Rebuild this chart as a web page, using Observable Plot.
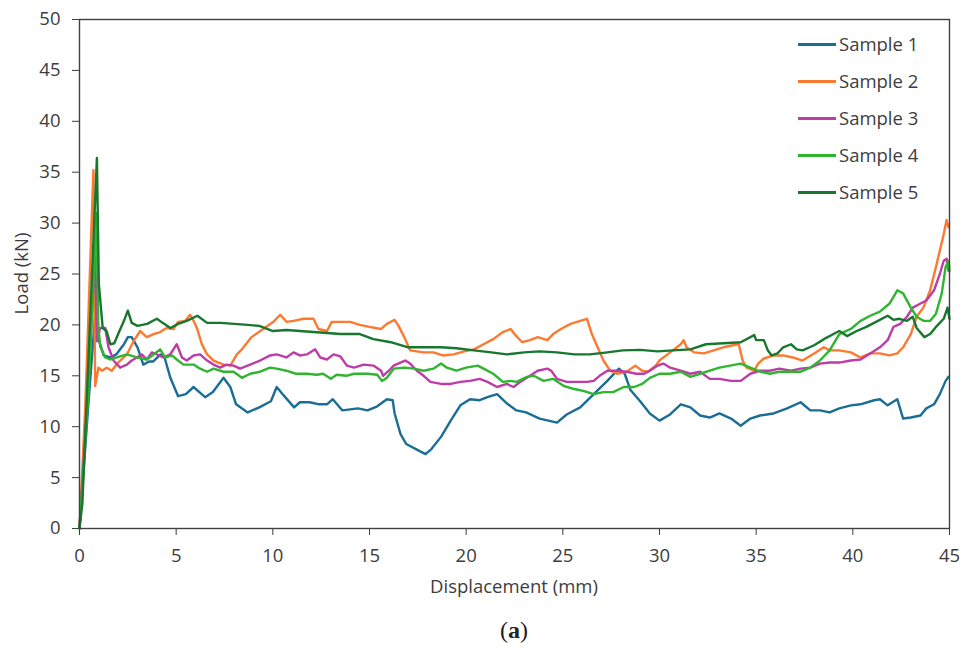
<!DOCTYPE html>
<html>
<head>
<meta charset="utf-8">
<script src="https://cdn.jsdelivr.net/npm/d3@7"></script>
<script src="https://cdn.jsdelivr.net/npm/@observablehq/plot@0.6"></script>
<style>
  html, body { margin: 0; padding: 0; background: #fff; }
  #wrap { position: relative; width: 969px; height: 652px; font-family: "Open Sans", sans-serif; color: #3d3d3d; }
  #legend { position: absolute; left: 798px; top: 31px; }
  .item { position: relative; height: 37px; }
  .sw { position: absolute; left: 0; top: 12px; width: 38px; height: 2.6px; }
  .lab { position: absolute; left: 41px; top: 0; font-size: 18.5px; line-height: 26px; color: #3d3d3d; white-space: nowrap; }
  #caption { position: absolute; left: 514px; top: 615px; transform: translateX(-50%); font-family: "Liberation Serif", serif; font-size: 24px; line-height: 30px; color: #222; }
</style>
</head>
<body>
<div id="wrap">
  <div id="chart"></div>
  <div id="legend"></div>
  <div id="caption">(<b>a</b>)</div>
</div>
<script>
const samples = ["Sample 1", "Sample 2", "Sample 3", "Sample 4", "Sample 5"];
const colors = ["#1b6e93", "#fb7a30", "#bd3ca8", "#2fb52f", "#18772f"];
const xTicks = [0, 5, 10, 15, 20, 25, 30, 35, 40, 45];
const yTicks = [0, 5, 10, 15, 20, 25, 30, 35, 40, 45, 50];

const sample1 = [[0,0],[0.45,12],[0.85,22],[1.0,18.5],[1.25,17.0],[1.6,16.8],[1.9,17.1],[2.3,18.1],[2.5,18.8],[2.7,18.8],[3.0,17.8],[3.3,16.1],[3.6,16.4],[3.8,16.4],[4.2,17.1],[4.4,16.8],[4.7,14.8],[5.1,13.0],[5.5,13.2],[5.9,13.9],[6.2,13.4],[6.5,12.9],[6.9,13.4],[7.45,14.8],[7.8,13.9],[8.1,12.2],[8.7,11.4],[9.3,11.9],[9.9,12.5],[10.2,13.9],[10.55,13.1],[11.1,11.9],[11.4,12.4],[11.9,12.4],[12.4,12.2],[12.8,12.2],[13.1,12.7],[13.6,11.6],[14.0,11.7],[14.4,11.8],[14.9,11.6],[15.4,12.0],[15.9,12.7],[16.2,12.6],[16.3,11.3],[16.6,9.3],[16.9,8.3],[17.5,7.7],[17.9,7.3],[18.2,7.8],[18.7,9.0],[19.2,10.6],[19.7,12.1],[20.2,12.7],[20.7,12.6],[21.1,12.9],[21.6,13.2],[22.1,12.3],[22.6,11.6],[23.1,11.4],[23.8,10.8],[24.7,10.4],[25.2,11.2],[25.9,11.9],[26.6,13.2],[27.3,14.5],[27.9,15.7],[28.2,15.2],[28.5,13.6],[29.0,12.5],[29.5,11.3],[30.0,10.6],[30.55,11.2],[31.1,12.2],[31.6,11.9],[32.1,11.1],[32.6,10.9],[33.1,11.3],[33.7,10.8],[34.2,10.1],[34.7,10.8],[35.2,11.1],[35.9,11.3],[36.6,11.8],[37.3,12.4],[37.8,11.6],[38.3,11.6],[38.8,11.4],[39.3,11.8],[39.9,12.1],[40.4,12.2],[41.1,12.6],[41.4,12.7],[41.8,12.1],[42.3,12.7],[42.6,10.8],[43.0,10.9],[43.5,11.1],[43.8,11.8],[44.2,12.2],[44.5,13.2],[44.8,14.5],[44.95,14.9]];

const sample2 = [[0,0],[0.3,12],[0.72,35.2],[0.81,14.0],[0.98,15.8],[1.16,15.5],[1.41,15.8],[1.67,15.5],[2.0,16.3],[2.45,17.1],[2.8,18.4],[3.14,19.4],[3.48,18.8],[3.83,19.1],[4.17,19.3],[4.5,19.7],[4.86,19.6],[5.1,20.3],[5.47,20.4],[5.72,21.0],[5.9,20.4],[6.07,19.7],[6.33,18.1],[6.6,17.1],[6.93,16.5],[7.45,16.1],[7.8,16.0],[8.14,17.1],[8.4,17.6],[8.9,18.8],[9.5,19.6],[10.03,20.3],[10.38,21.0],[10.72,20.3],[11.07,20.4],[11.6,20.6],[12.1,20.6],[12.36,19.6],[12.8,19.4],[13.05,20.3],[13.6,20.3],[14.0,20.3],[14.5,20.0],[15.0,19.8],[15.6,19.6],[15.9,20.1],[16.3,20.5],[16.5,19.9],[16.8,18.8],[17.1,17.5],[17.8,17.3],[18.3,17.3],[18.8,17.0],[19.35,17.1],[19.9,17.4],[20.4,17.6],[20.9,18.1],[21.4,18.6],[21.9,19.3],[22.3,19.6],[22.5,19.1],[22.9,18.3],[23.3,18.5],[23.7,18.8],[24.2,18.5],[24.5,19.1],[24.9,19.6],[25.4,20.1],[25.9,20.4],[26.25,20.6],[26.5,19.1],[26.8,17.8],[27.1,16.5],[27.45,15.5],[27.8,15.2],[28.3,15.4],[28.75,16.0],[29.1,15.5],[29.4,15.4],[29.8,16.0],[30.0,16.5],[30.55,17.3],[31.1,18.1],[31.25,18.5],[31.4,17.8],[31.8,17.3],[32.3,17.2],[32.8,17.5],[33.3,17.8],[33.8,18.0],[34.1,18.1],[34.3,16.5],[34.5,15.8],[34.9,15.5],[35.1,16.2],[35.4,16.7],[35.9,17.0],[36.4,17.0],[36.9,16.8],[37.4,16.5],[38.0,17.2],[38.5,17.8],[38.8,17.5],[39.3,17.5],[39.9,17.3],[40.4,16.8],[40.9,17.2],[41.4,17.2],[41.9,17.0],[42.3,17.2],[42.6,17.8],[43.0,19.1],[43.3,20.8],[43.65,21.7],[44.0,23.4],[44.3,25.7],[44.7,28.9],[44.85,30.3],[44.95,29.6]];

const sample3 = [[0,0],[0.4,12],[0.81,27.2],[0.9,18.4],[1.07,19.7],[1.33,19.7],[1.5,17.8],[1.76,16.5],[2.1,15.8],[2.45,16.1],[2.7,16.5],[2.97,16.8],[3.22,17.1],[3.48,16.6],[3.74,17.3],[4.0,17.1],[4.34,16.8],[4.69,17.1],[5.03,18.1],[5.3,16.8],[5.55,16.5],[5.9,17.0],[6.24,17.1],[6.6,16.5],[6.93,16.1],[7.28,15.8],[7.6,16.1],[7.97,16.0],[8.3,15.7],[8.83,16.1],[9.34,16.5],[9.86,17.0],[10.2,17.1],[10.7,16.8],[11.07,17.3],[11.4,17.0],[11.76,17.1],[12.19,17.6],[12.45,16.8],[12.8,16.6],[13.14,17.1],[13.5,16.9],[13.83,16.0],[14.2,15.8],[14.7,16.1],[15.2,16.0],[15.6,15.5],[15.7,15.0],[16.0,15.5],[16.25,16.0],[16.6,16.3],[16.85,16.5],[17.1,16.2],[17.45,15.5],[17.8,15.0],[18.15,14.4],[18.7,14.2],[19.2,14.2],[19.7,14.4],[20.2,14.5],[20.7,14.7],[21.1,14.4],[21.6,13.9],[22.1,14.2],[22.45,13.9],[22.8,14.4],[23.3,15.0],[23.7,15.5],[24.2,15.7],[24.4,15.5],[24.7,14.7],[25.2,14.4],[25.7,14.4],[26.25,14.4],[26.6,14.5],[26.9,15.0],[27.3,15.5],[27.8,15.5],[28.3,15.4],[28.8,15.2],[29.2,15.2],[29.5,15.5],[29.9,16.0],[30.2,16.2],[30.55,15.8],[31.1,15.5],[31.6,15.2],[32.1,15.4],[32.6,14.7],[33.1,14.7],[33.7,14.5],[34.2,14.5],[34.7,15.2],[35.2,15.5],[35.7,15.5],[36.2,15.7],[36.8,15.5],[37.3,15.7],[37.8,15.8],[38.3,16.2],[38.8,16.3],[39.3,16.3],[39.9,16.5],[40.4,16.6],[40.9,17.2],[41.4,17.8],[41.8,18.5],[42.1,19.8],[42.45,20.1],[42.8,20.8],[43.1,21.7],[43.5,22.1],[43.8,22.4],[44.2,23.4],[44.5,25.0],[44.7,26.3],[44.85,26.5],[44.95,25.3]];

const sample4 = [[0,0],[0.45,13],[0.88,31],[0.97,20],[1.07,17.9],[1.33,16.8],[1.59,16.6],[1.93,16.8],[2.45,17.1],[2.97,16.8],[3.48,16.6],[3.83,17.1],[4.17,17.6],[4.43,16.8],[4.78,17.0],[5.03,16.6],[5.38,16.1],[5.9,16.1],[6.24,15.7],[6.6,15.4],[6.93,15.7],[7.45,15.4],[7.97,15.4],[8.4,14.8],[8.83,15.2],[9.34,15.4],[9.86,15.8],[10.2,15.7],[10.7,15.5],[11.2,15.2],[11.76,15.2],[12.28,15.1],[12.6,15.2],[13.0,14.7],[13.3,15.1],[13.8,15.0],[14.2,15.2],[14.9,15.2],[15.4,15.1],[15.65,14.5],[15.9,14.8],[16.25,15.7],[16.8,15.8],[17.3,15.7],[17.8,15.5],[18.3,15.7],[18.7,16.2],[19.0,15.8],[19.5,15.5],[20.0,15.8],[20.6,16.0],[20.9,15.7],[21.4,15.2],[21.9,14.4],[22.3,14.5],[22.6,14.4],[23.15,14.9],[23.5,15.0],[24.0,14.5],[24.5,14.7],[25.05,14.0],[25.6,13.7],[26.1,13.5],[26.6,13.2],[27.1,13.4],[27.6,13.4],[28.15,13.9],[28.7,13.9],[29.1,14.2],[29.5,14.8],[30.0,15.2],[30.55,15.2],[31.1,15.4],[31.6,14.9],[32.1,15.2],[32.6,15.5],[33.1,15.8],[33.65,16.0],[34.2,16.2],[34.7,15.8],[35.2,15.4],[35.7,15.2],[36.2,15.4],[36.8,15.4],[37.3,15.4],[37.8,15.8],[38.3,16.5],[38.8,17.5],[39.3,19.1],[39.9,19.6],[40.4,20.4],[40.9,20.9],[41.4,21.3],[41.9,22.1],[42.3,23.4],[42.6,23.1],[43.0,21.7],[43.3,20.8],[43.65,20.4],[44.0,20.4],[44.3,21.1],[44.6,23.1],[44.8,25.7],[44.95,26.3],[45.0,25.3]];

const sample5 = [[0,0],[0.15,2.5],[0.9,36.4],[1.0,24],[1.2,19.7],[1.4,19.4],[1.6,18.1],[1.8,18.2],[2.0,19.1],[2.3,20.4],[2.5,21.4],[2.7,20.2],[3.0,19.9],[3.5,20.1],[4.0,20.6],[4.3,20.2],[4.7,19.7],[5.1,20.1],[5.55,20.4],[6.1,20.9],[6.6,20.2],[7.3,20.2],[8.0,20.1],[8.7,20.0],[9.3,19.9],[10.0,19.4],[10.7,19.5],[11.4,19.4],[12.1,19.3],[12.8,19.2],[13.5,19.1],[14.5,19.1],[15.2,18.6],[16.1,18.3],[17.0,17.8],[17.8,17.8],[18.7,17.8],[19.5,17.7],[20.4,17.5],[21.3,17.3],[22.1,17.1],[23.0,17.3],[23.8,17.4],[24.7,17.3],[25.6,17.1],[26.4,17.1],[27.3,17.3],[28.1,17.5],[29.0,17.55],[29.9,17.4],[30.7,17.5],[31.6,17.6],[32.4,18.1],[33.3,18.2],[34.2,18.3],[34.9,19.0],[35.0,18.5],[35.4,18.5],[35.6,17.5],[35.8,17.0],[36.1,17.2],[36.4,17.8],[36.8,18.1],[37.1,17.6],[37.4,17.5],[38.0,18.0],[38.5,18.6],[39.0,19.1],[39.3,19.4],[39.7,18.9],[40.2,19.4],[40.7,19.8],[41.2,20.3],[41.8,20.9],[42.1,20.5],[42.4,20.6],[42.8,20.4],[43.1,20.8],[43.3,19.7],[43.7,18.8],[44.0,19.1],[44.3,19.8],[44.7,20.6],[44.9,21.7],[45.0,20.6]];

const series = [sample1, sample2, sample3, sample4, sample5];
const table = series.flatMap((s, i) => s.map(([x, y]) => ({sample: samples[i], x, y})));

const W = 969, H = 604;
const chart = Plot.plot({
  width: W,
  height: H,
  marginLeft: 79,
  marginRight: 20,
  marginTop: 19,
  marginBottom: H - 528,
  style: {fontFamily: "'Open Sans', sans-serif", fontSize: "18.5px", color: "#3d3d3d", background: "#fff"},
  x: {domain: [0, 45], ticks: xTicks, tickSize: 7, tickPadding: 13, label: null},
  y: {domain: [0, 50], ticks: yTicks, tickSize: 7, tickPadding: 12, label: null},
  color: {domain: samples, range: colors},
  marks: [
    Plot.line(table, {x: "x", y: "y", z: "sample", stroke: "sample", strokeWidth: 2.4, strokeLinejoin: "round"}),
    Plot.frame({stroke: "#404040", strokeWidth: 1.4})
  ]
});
document.getElementById("chart").appendChild(chart);

const svg = d3.select(chart);
svg.append("text")
  .attr("transform", "translate(20,273.5) rotate(-90)")
  .attr("text-anchor", "middle").attr("dominant-baseline", "central")
  .attr("fill", "#3d3d3d").attr("font-size", 18.5)
  .text("Load (kN)");
svg.append("text")
  .attr("x", 514).attr("y", 585)
  .attr("text-anchor", "middle").attr("dominant-baseline", "central")
  .attr("fill", "#3d3d3d").attr("font-size", 18.5)
  .text("Displacement (mm)");

const legend = d3.select("#legend");
samples.forEach((s, i) => {
  const item = legend.append("div").attr("class", "item");
  item.append("div").attr("class", "sw").style("background", colors[i]);
  item.append("div").attr("class", "lab").text(s);
});
</script>
</body>
</html>
